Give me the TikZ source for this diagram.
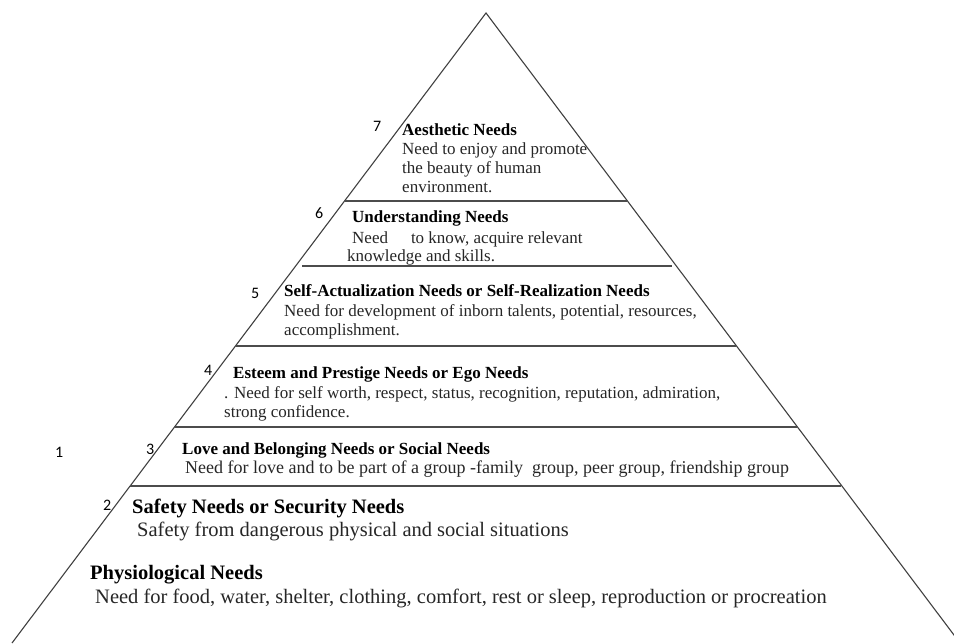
\documentclass[tikz,border=0pt]{standalone}
\usepackage{fontspec}
\setmainfont{Liberation Serif}
\newfontfamily\numfont{Carlito}
\tikzset{
  edge/.style={draw=black!75, line width=1.1pt},
  tier/.style={draw=black!70, line width=1.6pt},
  ttl/.style={anchor=base west, inner sep=0pt, font=\fontsize{17}{19}\selectfont\bfseries},
  bdy/.style={anchor=base west, inner sep=0pt, font=\fontsize{17}{19}\selectfont, text=black!85},
  bdymid/.style={anchor=base west, inner sep=0pt, font=\fontsize{18}{20}\selectfont, text=black!85},
  ttlbig/.style={anchor=base west, inner sep=0pt, font=\fontsize{20.5}{22}\selectfont\bfseries},
  bdybig/.style={anchor=base west, inner sep=0pt, font=\fontsize{20.5}{22}\selectfont, text=black!85},
  num/.style={anchor=base west, inner sep=0pt, font=\fontsize{16}{18}\selectfont\numfont},
}
\begin{document}
\begin{tikzpicture}[x=1pt,y=-1pt]
\useasboundingbox (0,0) rectangle (954,644);
\clip (0,0) rectangle (954,644);
% pyramid
\coordinate (apex) at (486,13);
\coordinate (bl) at (12,643);
\coordinate (br) at (960,643);
\draw[edge] (bl) -- (apex) -- (br);
% tier lines
\draw[tier] (345,201) -- (627,201);
\draw[tier] (302,266) -- (672,266);
\draw[tier] (236,346) -- (736,346);
\draw[tier] (175,427) -- (797,427);
\draw[tier] (130,486) -- (841,486);
% tier 7
\node[num] (n7) at (373,132) {7};
\node[ttl] (t7) at (402,135.5) {Aesthetic Needs};
\node[bdy] (b7a) at (402,155) {Need to enjoy and promote};
\node[bdy] (b7b) at (402,174) {the beauty of human};
\node[bdy] (b7c) at (402,192.5) {environment.};
% tier 6
\node[num] (n6) at (315,219) {6};
\node[ttl] (t6) at (352,222.5) {Understanding Needs};
\node[bdy] (b6a) at (352,244) {Need\hspace{1.1em} to know, acquire relevant};
\node[bdy] (b6b) at (347,262) {knowledge and skills.};
% tier 5
\node[num] (n5) at (251,298.5) {5};
\node[ttl] (t5) at (284,297) {Self-Actualization Needs or Self-Realization Needs};
\node[bdy] (b5a) at (284,317) {Need for development of inborn talents, potential, resources,};
\node[bdy] (b5b) at (284,336) {accomplishment.};
% tier 4
\node[num] (n4) at (204,376) {4};
\node[ttl] (t4) at (233,378.5) {Esteem and Prestige Needs or Ego Needs};
\node[bdy] (b4a) at (224,398.5) {. Need for self worth, respect, status, recognition, reputation, admiration,};
\node[bdy] (b4b) at (224,417.5) {strong confidence.};
% tier 3
\node[num] (n3) at (146,455) {3};
\node[ttl] (t3) at (182,454.5) {Love and Belonging Needs or Social Needs};
\node[bdymid] (b3) at (185,473) {Need for love and to be part of a group -family\ \ group, peer group, friendship group};
% label 1
\node[num] (n1) at (55,457) {1};
% tier 2
\node[num] (n2) at (103,510) {2};
\node[ttlbig] (t2) at (132,513.5) {Safety Needs or Security Needs};
\node[bdybig] (b2) at (137,536.5) {Safety from dangerous physical and social situations};
% tier physiological
\node[ttlbig] (t1) at (90,579.5) {Physiological Needs};
\node[bdybig] (b1) at (95,603) {Need for food, water, shelter, clothing, comfort, rest or sleep, reproduction or procreation};
\end{tikzpicture}
\end{document}
